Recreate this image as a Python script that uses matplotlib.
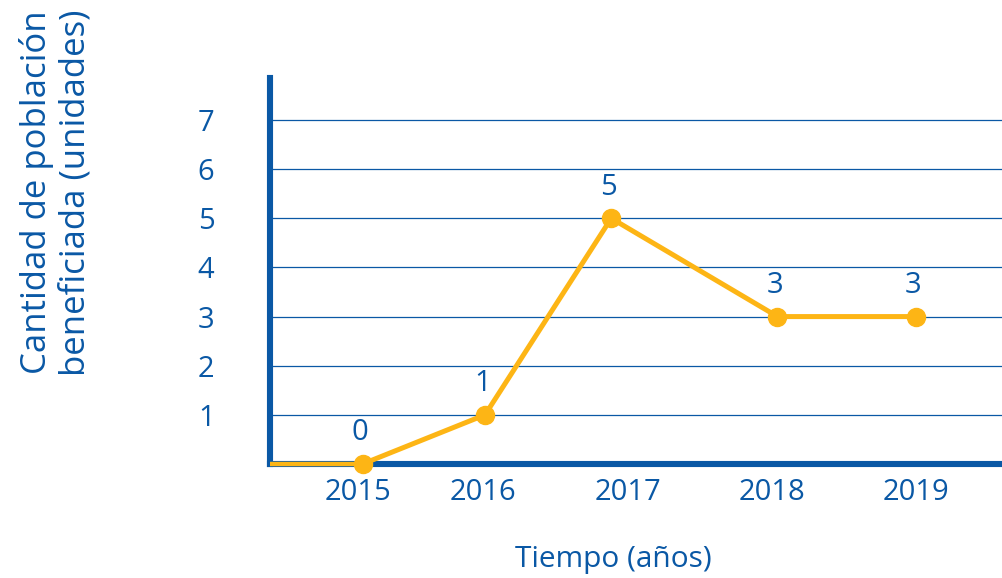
import matplotlib
matplotlib.use("Agg")
import matplotlib.pyplot as plt

years = ["2015", "2016", "2017", "2018", "2019"]
values = [0, 1, 5, 3, 3]
y_ticks = [1, 2, 3, 4, 5, 6, 7]

# layout (horizontal positions in the reference are slightly uneven)
x_pos = [0.74, 1.72, 2.73, 4.06, 5.17]
label_pos = [0.70, 1.70, 2.86, 4.02, 5.17]

BLUE = "#0A58A5"
ORANGE = "#FDB515"
plt.rcParams["font.family"] = ["Open Sans", "DejaVu Sans"]

fig = plt.figure(figsize=(10.03, 5.78), dpi=100)
ax = fig.add_axes([270 / 1003, 114 / 578, 733 / 1003, 386 / 578])
ax.set_xlim(0, 5.864)
ax.set_ylim(0, 7.855)

for v in y_ticks:
    ax.axhline(v, color=BLUE, lw=0.9, zorder=1)

# horizontal lead-in segment from the axis to the first point
ax.plot([0, x_pos[0]], [values[0], values[0]], color=ORANGE, lw=3.2, zorder=6,
        solid_capstyle="butt", clip_on=False)
ax.plot(x_pos, values, color=ORANGE, lw=3.6, marker="o", ms=13, zorder=7, clip_on=False)

for x, v in zip(x_pos, values):
    ax.annotate(str(v), (x, v), xytext=(-2, 12), textcoords="offset points",
                ha="center", va="bottom", fontsize=21, color=BLUE)

for s in ["top", "right"]:
    ax.spines[s].set_visible(False)
for s in ["left", "bottom"]:
    ax.spines[s].set_color(BLUE)
    ax.spines[s].set_linewidth(4.4)
    ax.spines[s].set_zorder(3)

ax.set_yticks(y_ticks)
ax.set_yticklabels([str(t) for t in y_ticks], fontsize=21, color=BLUE)
ax.set_xticks(label_pos)
ax.set_xticklabels(years, fontsize=21, color=BLUE)
ax.tick_params(axis="both", length=0)
ax.tick_params(axis="y", pad=40)
ax.tick_params(axis="x", pad=10)

fig.text(0.0555, 0.667, "Cantidad de población\nbeneficiada (unidades)", rotation=90,
         ha="center", va="center", fontsize=25, color=BLUE, linespacing=1.2)
fig.text(613 / 1003, 1 - 560 / 578, "Tiempo (años)", ha="center", va="center",
         fontsize=21.5, color=BLUE)

fig.savefig("out.png", dpi=100)
